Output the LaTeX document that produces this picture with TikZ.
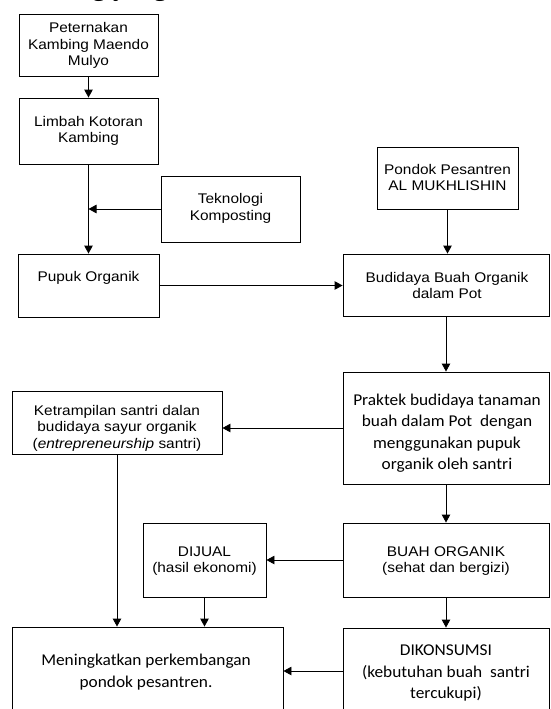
\documentclass[tikz,border=0pt]{standalone}
\usepackage{fontspec}
\usetikzlibrary{arrows.meta}
\newfontfamily\arialf{Liberation Sans}[FakeStretch=1.1]
\newfontfamily\calf{Carlito}[FakeStretch=1.05]
\newfontfamily\timesf{Liberation Serif}
\begin{document}
\begin{tikzpicture}[x=1pt,y=-1pt,
  box/.style={draw=black,line width=0.9pt,inner sep=0pt,fill=none},
  txa/.style={align=center,inner sep=0pt,font=\arialf\fontsize{14}{16.5}\selectfont},
  txc/.style={align=center,inner sep=0pt,font=\calf\fontsize{16.5}{21.5}\selectfont},
  arr/.style={draw=black,line width=0.9pt,-{Triangle[length=8pt,width=8.5pt]}},
  ln/.style={draw=black,line width=0.9pt}]
\useasboundingbox (0,0) rectangle (550,709);
\clip (0,0) rectangle (550,709);
% cut-off text line from the page above
\node[anchor=base west,inner sep=0pt,outer sep=0pt,font=\timesf\fontsize{28}{30}\selectfont] (toptext) at (8,-4) {kambing yang telah diketahui};
% boxes
\node[box,minimum width=139pt,minimum height=62pt] (pet) at (88.5,45) {};
\node[box,minimum width=139pt,minimum height=66pt] (lim) at (88.5,131) {};
\node[box,minimum width=139pt,minimum height=66pt] (tek) at (230.5,209) {};
\node[box,minimum width=141pt,minimum height=62pt] (pon) at (447.5,178) {};
\node[box,minimum width=141pt,minimum height=63pt] (pup) at (88.5,285.5) {};
\node[box,minimum width=206pt,minimum height=62pt] (bud) at (446,285) {};
\node[box,minimum width=206pt,minimum height=112pt] (pra) at (446,428) {};
\node[box,minimum width=210pt,minimum height=63pt] (ket) at (117,422.5) {};
\node[box,minimum width=123pt,minimum height=74pt] (dij) at (204.5,560) {};
\node[box,minimum width=206pt,minimum height=74pt] (bua) at (446,560) {};
\node[box,minimum width=206pt,minimum height=92pt] (dik) at (446,674) {};
\node[box,minimum width=271pt,minimum height=93pt] (men) at (147.5,673.5) {};
% texts
\node[txa] (tpet) at (88.5,45.5) {Peternakan\\Kambing Maendo\\Mulyo};
\node[txa] (tlim) at (88.5,131) {Limbah Kotoran\\Kambing};
\node[txa] (ttek) at (230.5,208.5) {Teknologi\\Komposting};
\node[txa] (tpon) at (447.5,177.5) {Pondok Pesantren\\AL MUKHLISHIN};
\node[txa] (tpup) at (88.5,278) {Pupuk Organik};
\node[txa] (tbud) at (447,285.5) {Budidaya Buah Organik\\dalam Pot};
\node[txc] (tpra) at (447,433) {Praktek budidaya tanaman\\buah dalam Pot\ \ dengan\\menggunakan pupuk\\organik oleh santri};
\node[txa] (tket) at (117,428) {Ketrampilan santri dalan\\budidaya sayur organik\\(\textit{entrepreneurship} santri)};
\node[txa] (tdij) at (204.5,561) {DIJUAL\\(hasil ekonomi)};
\node[txa] (tbua) at (446,561) {BUAH ORGANIK\\(sehat dan bergizi)};
\node[txc] (tdik) at (446,673) {DIKONSUMSI\\(kebutuhan buah\ \ santri\\tercukupi)};
\node[txc] (tmen) at (146,672) {Meningkatkan perkembangan\\pondok pesantren.};
% connectors
\draw[arr] (pet.south) -- (lim.north);
\draw[arr] (lim.south) -- (pup.north);
\coordinate (j1) at (lim.south |- tek.west);
\draw[arr] (tek.west) -- (j1);
\draw[arr] (pup.east) -- (pup.east -| bud.west);
\draw[arr] (pon.south) -- (pon.south |- bud.north);
\draw[arr] (bud.south) -- (pra.north);
\draw[arr] (pra.west) -- (pra.west -| ket.east);
\draw[arr] (ket.south) -- (ket.south |- men.north);
\draw[arr] (pra.south) -- (bua.north);
\draw[arr] (bua.west) -- (bua.west -| dij.east);
\draw[arr] (dij.south) -- (dij.south |- men.north);
\draw[arr] (bua.south) -- (dik.north);
\coordinate (j2) at ([yshift=3pt]dik.west);
\draw[arr] (j2) -- (j2 -| men.east);
\end{tikzpicture}
\end{document}
